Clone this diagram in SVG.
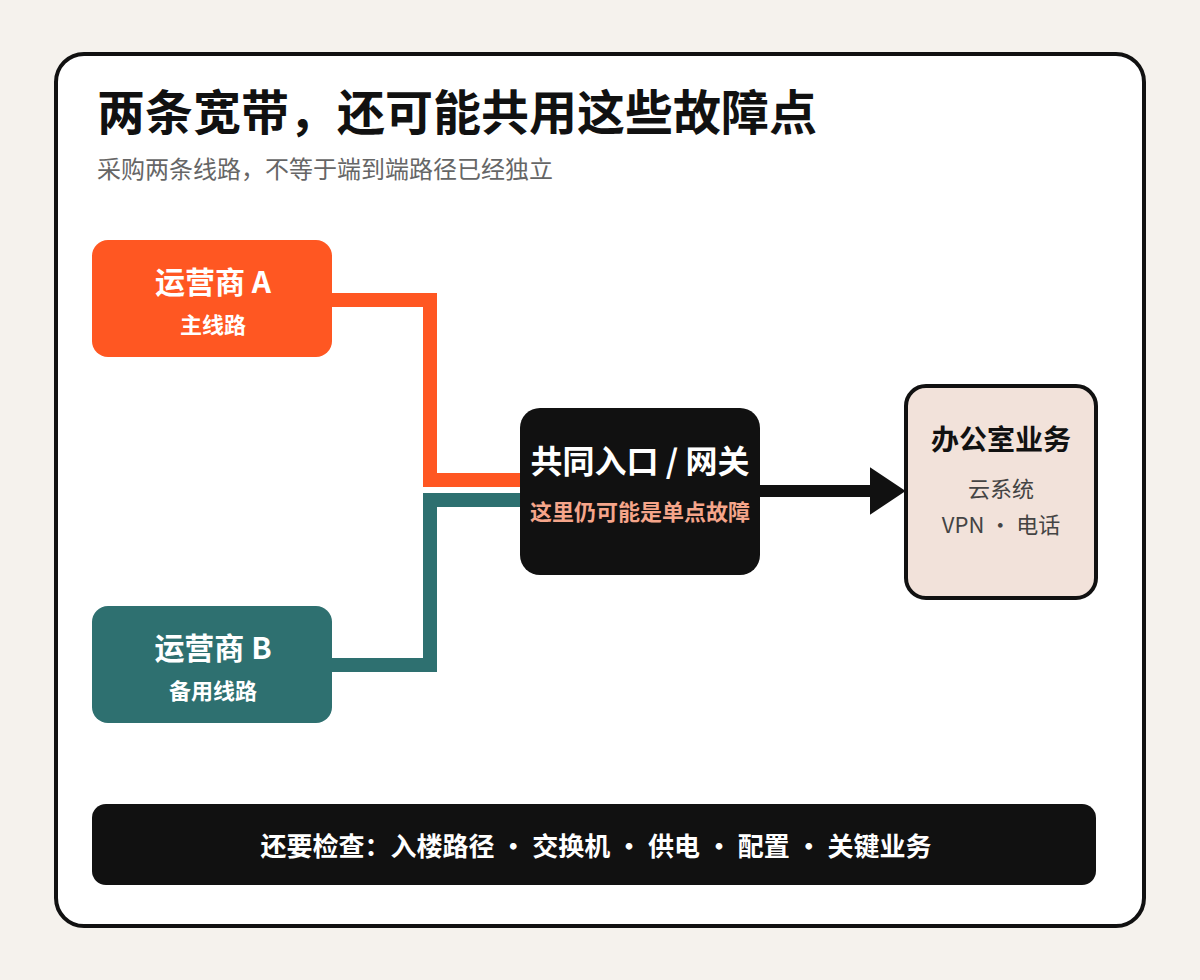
<svg xmlns="http://www.w3.org/2000/svg" width="1200" height="980" viewBox="0 0 1200 980">
<style>
text{font-family:"Noto Sans CJK SC","Liberation Sans",sans-serif}
.w{fill:#fff;font-weight:bold;text-anchor:middle}
.c{fill:none;stroke-width:14}
</style>
<defs><marker id="ah" markerWidth="4" markerHeight="4" refX="0.2" refY="2" orient="auto" markerUnits="strokeWidth"><path d="M0,0 L3,2 L0,4Z" fill="#111"/></marker></defs>
<rect width="1200" height="980" fill="#f5f2ed"/>
<rect x="56" y="54" width="1088" height="872" rx="28" fill="#fff" stroke="#111" stroke-width="4"/>
<text x="97" y="130" font-size="48" font-weight="bold" fill="#111">两条宽带，还可能共用这些故障点</text>
<text x="97" y="178" font-size="24" fill="#666">采购两条线路，不等于端到端路径已经独立</text>
<g id="connectors">
<path class="c" stroke="#ff5722" d="M332,300 H430 V480 H520"/>
<path class="c" stroke="#2e7070" d="M332,665 H430 V500 H520"/>
<path d="M760,491 H872" stroke="#111" stroke-width="12" marker-end="url(#ah)"/>
</g>
<g id="nodeA"><rect x="92" y="240" width="240" height="117" rx="16" fill="#ff5722"/>
<text class="w" x="213" y="293" font-size="30">运营商 A</text><text class="w" x="213" y="333" font-size="22">主线路</text></g>
<g id="nodeB"><rect x="92" y="606" width="240" height="117" rx="16" fill="#2e7070"/>
<text class="w" x="213" y="659" font-size="30">运营商 B</text><text class="w" x="213" y="699" font-size="22">备用线路</text></g>
<g id="gateway"><rect x="520" y="408" width="240" height="167" rx="20" fill="#111"/>
<text class="w" x="640" y="473" font-size="32">共同入口 / 网关</text><text class="w" x="640" y="520" font-size="22" style="fill:#f5a58a">这里仍可能是单点故障</text></g>
<g id="office"><rect x="906" y="386" width="190" height="212" rx="20" fill="#f2e2da" stroke="#111" stroke-width="4"/>
<text x="1001" y="450" font-size="28" font-weight="bold" fill="#111" text-anchor="middle">办公室业务</text>
<text x="1001" y="497" font-size="22" fill="#444" text-anchor="middle">云系统</text>
<text x="1001" y="533" font-size="22" fill="#444" text-anchor="middle">VPN · 电话</text></g>
<g id="checklist"><rect x="92" y="804" width="1004" height="81" rx="14" fill="#111"/>
<text class="w" x="596" y="856" font-size="26">还要检查：入楼路径 · 交换机 · 供电 · 配置 · 关键业务</text></g>
</svg>
